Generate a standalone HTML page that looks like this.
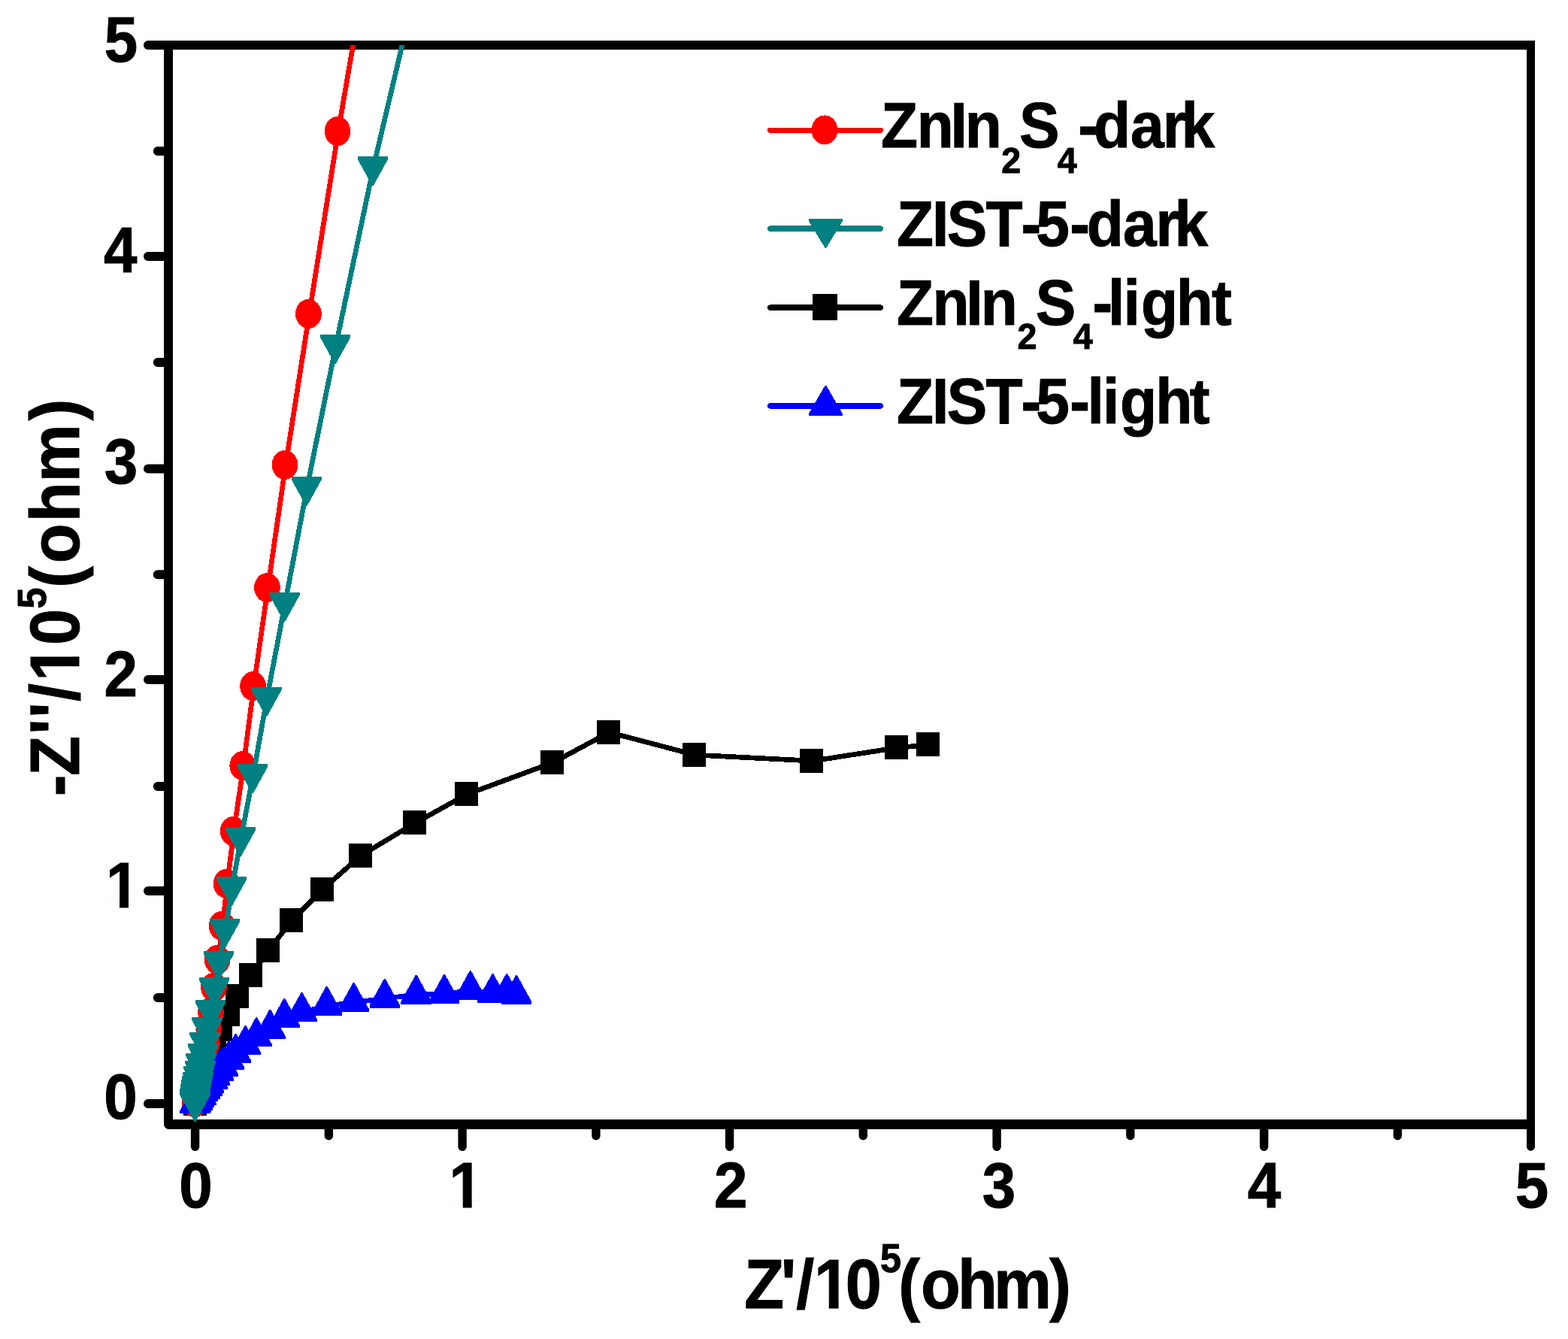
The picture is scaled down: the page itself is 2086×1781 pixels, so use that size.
<!DOCTYPE html>
<html lang="en"><head><meta charset="utf-8"><title>Nyquist plot</title>
<style>html,body{margin:0;padding:0;background:#fff}svg{display:block}text{font-family:"Liberation Sans",sans-serif;font-weight:bold;fill:#000;stroke:#000;stroke-width:1px;stroke-linejoin:miter}</style></head><body>
<svg width="2086" height="1781" viewBox="0 0 2086 1781" role="img" aria-label="Nyquist plot">
<rect x="0" y="0" width="2086" height="1781" fill="#fff"/>
<defs><clipPath id="plotclip"><rect x="224" y="60" width="1812.5" height="1440"/></clipPath></defs>
<g id="frame" fill="#000" shape-rendering="crispEdges">
<rect x="218" y="54" width="1824" height="12"/>
<rect x="218" y="54" width="12" height="1442"/>
<rect x="2031" y="54" width="11" height="1448"/>
<rect x="224" y="1489" width="1818" height="13"/>
</g>
<path d="M218 1489 H231 V1502 H224.5 A6.5 6.5 0 0 1 218 1495.5 Z" fill="#000"/>
<g id="ticks" stroke="#000" stroke-width="12" stroke-linecap="round" fill="none">
<line x1="197" y1="1468.0" x2="224" y2="1468.0"/>
<line x1="197" y1="1185.0" x2="224" y2="1185.0"/>
<line x1="197" y1="904.0" x2="224" y2="904.0"/>
<line x1="197" y1="623.5" x2="224" y2="623.5"/>
<line x1="197" y1="341.0" x2="224" y2="341.0"/>
<line x1="197" y1="60.0" x2="224" y2="60.0"/>
<line x1="209.8" y1="1327.0" x2="224" y2="1327.0"/>
<line x1="209.8" y1="1046.0" x2="224" y2="1046.0"/>
<line x1="209.8" y1="764.2" x2="224" y2="764.2"/>
<line x1="209.8" y1="482.0" x2="224" y2="482.0"/>
<line x1="209.8" y1="201.0" x2="224" y2="201.0"/>
<line x1="259.6" y1="1495" x2="259.6" y2="1525.2" stroke-width="11.4"/>
<line x1="615.1" y1="1495" x2="615.1" y2="1525.2" stroke-width="11.4"/>
<line x1="970.6" y1="1495" x2="970.6" y2="1525.2" stroke-width="11.4"/>
<line x1="1326.1" y1="1495" x2="1326.1" y2="1525.2" stroke-width="11.4"/>
<line x1="1681.6" y1="1495" x2="1681.6" y2="1525.2" stroke-width="11.4"/>
<line x1="2036.5" y1="1495" x2="2036.5" y2="1525.2" stroke-width="11"/>
<line x1="437.4" y1="1495" x2="437.4" y2="1510.8" stroke-width="11.4"/>
<line x1="792.9" y1="1495" x2="792.9" y2="1510.8" stroke-width="11.4"/>
<line x1="1148.3" y1="1495" x2="1148.3" y2="1510.8" stroke-width="11.4"/>
<line x1="1503.8" y1="1495" x2="1503.8" y2="1510.8" stroke-width="11.4"/>
<line x1="1859.3" y1="1495" x2="1859.3" y2="1510.8" stroke-width="11.4"/>
</g>
<g id="ticklabels">
<text transform="scale(0.937,1)"><tspan x="148.1" y="82.0" font-size="85.3">5</tspan></text>
<text transform="scale(0.937,1)"><tspan x="147.2" y="362.0" font-size="85.3">4</tspan></text>
<text transform="scale(0.937,1)"><tspan x="148.1" y="643.0" font-size="85.3">3</tspan></text>
<text transform="scale(0.937,1)"><tspan x="147.8" y="925.8" font-size="85.3">2</tspan></text>
<text transform="scale(0.937,1)"><tspan x="150.4" y="1207.0" font-size="85.3">1</tspan></text>
<text transform="scale(0.937,1)"><tspan x="147.6" y="1488.0" font-size="85.3">0</tspan></text>
<text transform="scale(0.937,1)"><tspan x="254.3" y="1606.0" font-size="85.3">0</tspan></text>
<text transform="scale(0.937,1)"><tspan x="637.8" y="1606.0" font-size="85.3">1</tspan></text>
<text transform="scale(0.937,1)"><tspan x="1013.8" y="1606.0" font-size="85.3">2</tspan></text>
<text transform="scale(0.937,1)"><tspan x="1394.7" y="1606.0" font-size="85.3">3</tspan></text>
<text transform="scale(0.937,1)"><tspan x="1771.4" y="1606.0" font-size="85.3">4</tspan></text>
<text transform="scale(0.937,1)"><tspan x="2151.4" y="1606.0" font-size="85.3">5</tspan></text>
<rect x="144.41" y="1197.19" width="14.62" height="11.31" fill="#fff"/>
<rect x="171.00" y="1197.19" width="13.60" height="11.31" fill="#fff"/>
<rect x="601.11" y="1596.19" width="14.62" height="11.31" fill="#fff"/>
<rect x="627.70" y="1596.19" width="13.60" height="11.31" fill="#fff"/>
</g>
<g id="titles">
<text transform="scale(0.94,1)"><tspan x="1053.5 1105.0 1127.0 1152.2 1196.6" y="1740.3" font-size="92.0">Z'/10</tspan><tspan x="1245.7" y="1691.8" font-size="53.5">5</tspan><tspan x="1271.6 1303.2 1355.4 1406.3 1485.1" y="1740.3" font-size="92.0">(ohm)</tspan></text>
<rect x="1087.00" y="1729.81" width="15.74" height="11.99" fill="#fff"/>
<rect x="1115.60" y="1729.81" width="14.64" height="11.99" fill="#fff"/>
<text transform="translate(105.1,0) rotate(-90) scale(0.94,1)"><tspan x="-1126.8 -1097.6 -1039.2 -1015.7 -992.5 -963.8 -912.7" y="0.0" font-size="92.0">-Z''/10</tspan><tspan x="-861.3" y="-44.5" font-size="53.5">5</tspan><tspan x="-831.7 -797.2 -738.5 -682.1 -595.2" y="0.0" font-size="92.0">(ohm)</tspan></text>
<rect x="94.61" y="886.27" width="11.99" height="15.74" fill="#fff"/>
<rect x="94.61" y="858.76" width="11.99" height="14.64" fill="#fff"/>
</g>
<g id="data" clip-path="url(#plotclip)" shape-rendering="crispEdges">
<g id="s-black" fill="#000000">
<polyline points="1235.0,990.6 1193.0,994.7 1080.9,1012.1 924.6,1004.1 810.5,974.1 735.9,1014.2 621.0,1056.6 552.8,1094.5 480.0,1137.9 429.0,1183.2 388.4,1224.3 357.0,1264.2 334.1,1296.8 316.9,1325.3 304.4,1349.2 294.3,1369.0 286.6,1385.5 280.6,1399.2 276.0,1410.7 272.4,1420.3 269.6,1428.2 267.4,1434.9 265.8,1440.4 264.5,1445.1 263.5,1448.9 262.7,1452.1 262.1,1454.8 261.6,1457.1 261.2,1458.9 261.0,1460.5 260.7,1461.8 260.6,1462.9 260.5,1463.8 260.3,1464.5 260.3,1465.1 260.2,1465.7 260.2,1466.1 260.1,1466.5 260.1,1466.8 260.1,1467.0 260.1,1467.2 260.0,1467.4 260.0,1467.6 260.0,1467.7 260.0,1467.8 260.0,1467.9" fill="none" stroke="#000000" stroke-width="6.7" stroke-linejoin="round" stroke-linecap="round"/>
<rect x="1218.5" y="974.3" width="31.0" height="32.0"/>
<rect x="1176.5" y="978.4" width="31.0" height="32.0"/>
<rect x="1064.4" y="995.8" width="31.0" height="32.0"/>
<rect x="908.1" y="987.8" width="31.0" height="32.0"/>
<rect x="794.0" y="957.8" width="31.0" height="32.0"/>
<rect x="719.4" y="997.9" width="31.0" height="32.0"/>
<rect x="604.5" y="1040.3" width="31.0" height="32.0"/>
<rect x="536.3" y="1078.2" width="31.0" height="32.0"/>
<rect x="463.5" y="1121.6" width="31.0" height="32.0"/>
<rect x="412.5" y="1166.9" width="31.0" height="32.0"/>
<rect x="371.9" y="1208.0" width="31.0" height="32.0"/>
<rect x="340.5" y="1247.9" width="31.0" height="32.0"/>
<rect x="317.6" y="1280.5" width="31.0" height="32.0"/>
<rect x="300.4" y="1309.0" width="31.0" height="32.0"/>
<rect x="287.9" y="1332.9" width="31.0" height="32.0"/>
<rect x="277.8" y="1352.7" width="31.0" height="32.0"/>
<rect x="270.1" y="1369.2" width="31.0" height="32.0"/>
<rect x="264.1" y="1382.9" width="31.0" height="32.0"/>
<rect x="259.5" y="1394.4" width="31.0" height="32.0"/>
<rect x="255.9" y="1404.0" width="31.0" height="32.0"/>
<rect x="253.1" y="1411.9" width="31.0" height="32.0"/>
<rect x="250.9" y="1418.6" width="31.0" height="32.0"/>
<rect x="249.3" y="1424.1" width="31.0" height="32.0"/>
<rect x="248.0" y="1428.8" width="31.0" height="32.0"/>
<rect x="247.0" y="1432.6" width="31.0" height="32.0"/>
<rect x="246.2" y="1435.8" width="31.0" height="32.0"/>
<rect x="245.6" y="1438.5" width="31.0" height="32.0"/>
<rect x="245.1" y="1440.8" width="31.0" height="32.0"/>
<rect x="244.7" y="1442.6" width="31.0" height="32.0"/>
<rect x="244.5" y="1444.2" width="31.0" height="32.0"/>
<rect x="244.2" y="1445.5" width="31.0" height="32.0"/>
<rect x="244.1" y="1446.6" width="31.0" height="32.0"/>
<rect x="244.0" y="1447.5" width="31.0" height="32.0"/>
<rect x="243.8" y="1448.2" width="31.0" height="32.0"/>
<rect x="243.8" y="1448.8" width="31.0" height="32.0"/>
<rect x="243.7" y="1449.4" width="31.0" height="32.0"/>
<rect x="243.7" y="1449.8" width="31.0" height="32.0"/>
<rect x="243.6" y="1450.2" width="31.0" height="32.0"/>
<rect x="243.6" y="1450.5" width="31.0" height="32.0"/>
<rect x="243.6" y="1450.7" width="31.0" height="32.0"/>
<rect x="243.6" y="1450.9" width="31.0" height="32.0"/>
<rect x="243.5" y="1451.1" width="31.0" height="32.0"/>
<rect x="243.5" y="1451.3" width="31.0" height="32.0"/>
<rect x="243.5" y="1451.4" width="31.0" height="32.0"/>
<rect x="243.5" y="1451.5" width="31.0" height="32.0"/>
<rect x="243.5" y="1451.6" width="31.0" height="32.0"/>
</g>
<g id="s-red" fill="#ff0000">
<polyline points="502.2,-130.5 450.0,174.8 411.4,417.7 380.0,618.6 356.4,781.8 337.6,912.9 323.8,1018.7 311.2,1105.8 302.2,1175.6 296.1,1231.6 290.1,1276.6 285.5,1313.5 281.6,1346.3 278.8,1369.4 276.3,1388.0 274.2,1403.1 272.3,1415.4 270.7,1425.2 269.3,1433.2 268.1,1439.7 267.0,1444.9 266.1,1449.2 265.3,1452.6 264.6,1455.4 264.0,1457.6 263.4,1459.4 263.0,1460.9 262.6,1462.1 262.2,1463.0 261.9,1463.8 261.7,1464.4 261.4,1464.9 261.2,1465.4 261.1,1465.7 260.9,1466.0 260.8,1466.2 260.7,1466.4 260.6,1466.5 260.5,1466.6 260.4,1466.7 260.3,1466.8 260.3,1466.8 260.2,1466.9 260.2,1466.9 260.2,1467.0 260.1,1467.0 260.1,1467.0" fill="none" stroke="#ff0000" stroke-width="6.7" stroke-linejoin="round" stroke-linecap="round"/>
<ellipse cx="449.0" cy="174.5" rx="17.4" ry="19.5"/>
<ellipse cx="410.4" cy="417.4" rx="17.4" ry="19.5"/>
<ellipse cx="379.0" cy="618.3" rx="17.4" ry="19.5"/>
<ellipse cx="355.4" cy="781.5" rx="17.4" ry="19.5"/>
<ellipse cx="336.6" cy="912.6" rx="17.4" ry="19.5"/>
<ellipse cx="322.8" cy="1018.4" rx="17.4" ry="19.5"/>
<ellipse cx="310.2" cy="1105.5" rx="17.4" ry="19.5"/>
<ellipse cx="301.2" cy="1175.3" rx="17.4" ry="19.5"/>
<ellipse cx="295.1" cy="1231.3" rx="17.4" ry="19.5"/>
<ellipse cx="289.1" cy="1276.3" rx="17.4" ry="19.5"/>
<ellipse cx="284.5" cy="1313.2" rx="17.4" ry="19.5"/>
<ellipse cx="280.6" cy="1346.0" rx="17.4" ry="19.5"/>
<ellipse cx="277.8" cy="1369.1" rx="17.4" ry="19.5"/>
<ellipse cx="275.3" cy="1387.7" rx="17.4" ry="19.5"/>
<ellipse cx="273.2" cy="1402.8" rx="17.4" ry="19.5"/>
<ellipse cx="271.3" cy="1415.1" rx="17.4" ry="19.5"/>
<ellipse cx="269.7" cy="1424.9" rx="17.4" ry="19.5"/>
<ellipse cx="268.3" cy="1432.9" rx="17.4" ry="19.5"/>
<ellipse cx="267.1" cy="1439.4" rx="17.4" ry="19.5"/>
<ellipse cx="266.0" cy="1444.6" rx="17.4" ry="19.5"/>
<ellipse cx="265.1" cy="1448.9" rx="17.4" ry="19.5"/>
<ellipse cx="264.3" cy="1452.3" rx="17.4" ry="19.5"/>
<ellipse cx="263.6" cy="1455.1" rx="17.4" ry="19.5"/>
<ellipse cx="263.0" cy="1457.3" rx="17.4" ry="19.5"/>
<ellipse cx="262.4" cy="1459.1" rx="17.4" ry="19.5"/>
<ellipse cx="262.0" cy="1460.6" rx="17.4" ry="19.5"/>
<ellipse cx="261.6" cy="1461.8" rx="17.4" ry="19.5"/>
<ellipse cx="261.2" cy="1462.7" rx="17.4" ry="19.5"/>
<ellipse cx="260.9" cy="1463.5" rx="17.4" ry="19.5"/>
<ellipse cx="260.7" cy="1464.1" rx="17.4" ry="19.5"/>
<ellipse cx="260.4" cy="1464.6" rx="17.4" ry="19.5"/>
<ellipse cx="260.2" cy="1465.1" rx="17.4" ry="19.5"/>
<ellipse cx="260.1" cy="1465.4" rx="17.4" ry="19.5"/>
<ellipse cx="259.9" cy="1465.7" rx="17.4" ry="19.5"/>
<ellipse cx="259.8" cy="1465.9" rx="17.4" ry="19.5"/>
<ellipse cx="259.7" cy="1466.1" rx="17.4" ry="19.5"/>
<ellipse cx="259.6" cy="1466.2" rx="17.4" ry="19.5"/>
<ellipse cx="259.5" cy="1466.3" rx="17.4" ry="19.5"/>
<ellipse cx="259.4" cy="1466.4" rx="17.4" ry="19.5"/>
<ellipse cx="259.3" cy="1466.5" rx="17.4" ry="19.5"/>
<ellipse cx="259.3" cy="1466.5" rx="17.4" ry="19.5"/>
<ellipse cx="259.2" cy="1466.6" rx="17.4" ry="19.5"/>
<ellipse cx="259.2" cy="1466.6" rx="17.4" ry="19.5"/>
<ellipse cx="259.2" cy="1466.7" rx="17.4" ry="19.5"/>
<ellipse cx="259.1" cy="1466.7" rx="17.4" ry="19.5"/>
<ellipse cx="259.1" cy="1466.7" rx="17.4" ry="19.5"/>
</g>
<g id="s-blue" fill="#0000ff">
<polyline points="688.0,1323.2 675.2,1321.2 656.5,1321.2 626.8,1317.2 592.1,1322.1 554.7,1322.9 512.8,1328.0 471.6,1333.1 435.7,1338.0 402.5,1346.0 379.3,1354.1 360.3,1368.9 342.2,1379.3 327.5,1390.1 314.6,1401.1 305.6,1410.1 297.4,1418.9 291.4,1425.1 286.4,1431.2 283.4,1436.0 278.4,1441.1 276.4,1444.9 273.3,1449.3 271.1,1452.6 268.2,1457.5 266.0,1460.8 263.4,1464.2 261.8,1466.3 260.5,1468.3" fill="none" stroke="#0000ff" stroke-width="6.7" stroke-linejoin="round" stroke-linecap="round"/>
<polygon points="686.0,1297.3 688.0,1297.3 707.3,1332.3 707.3,1335.8 666.7,1335.8 666.7,1332.3"/>
<polygon points="673.2,1295.3 675.2,1295.3 694.5,1330.3 694.5,1333.8 653.9,1333.8 653.9,1330.3"/>
<polygon points="654.5,1295.3 656.5,1295.3 675.8,1330.3 675.8,1333.8 635.2,1333.8 635.2,1330.3"/>
<polygon points="624.8,1291.3 626.8,1291.3 646.1,1326.3 646.1,1329.8 605.5,1329.8 605.5,1326.3"/>
<polygon points="590.1,1296.2 592.1,1296.2 611.4,1331.2 611.4,1334.7 570.8,1334.7 570.8,1331.2"/>
<polygon points="552.7,1297.0 554.7,1297.0 574.0,1332.0 574.0,1335.5 533.4,1335.5 533.4,1332.0"/>
<polygon points="510.8,1302.1 512.8,1302.1 532.1,1337.1 532.1,1340.6 491.5,1340.6 491.5,1337.1"/>
<polygon points="469.6,1307.2 471.6,1307.2 490.9,1342.2 490.9,1345.7 450.3,1345.7 450.3,1342.2"/>
<polygon points="433.7,1312.1 435.7,1312.1 455.0,1347.1 455.0,1350.6 414.4,1350.6 414.4,1347.1"/>
<polygon points="400.5,1320.1 402.5,1320.1 421.8,1355.1 421.8,1358.6 381.2,1358.6 381.2,1355.1"/>
<polygon points="377.3,1328.2 379.3,1328.2 398.6,1363.2 398.6,1366.7 358.0,1366.7 358.0,1363.2"/>
<polygon points="358.3,1343.0 360.3,1343.0 379.6,1378.0 379.6,1381.5 339.0,1381.5 339.0,1378.0"/>
<polygon points="340.2,1353.4 342.2,1353.4 361.5,1388.4 361.5,1391.9 320.9,1391.9 320.9,1388.4"/>
<polygon points="325.5,1364.2 327.5,1364.2 346.8,1399.2 346.8,1402.7 306.2,1402.7 306.2,1399.2"/>
<polygon points="312.6,1375.2 314.6,1375.2 333.9,1410.2 333.9,1413.7 293.3,1413.7 293.3,1410.2"/>
<polygon points="303.6,1384.2 305.6,1384.2 324.9,1419.2 324.9,1422.7 284.3,1422.7 284.3,1419.2"/>
<polygon points="295.4,1393.0 297.4,1393.0 316.7,1428.0 316.7,1431.5 276.1,1431.5 276.1,1428.0"/>
<polygon points="289.4,1399.2 291.4,1399.2 310.7,1434.2 310.7,1437.7 270.1,1437.7 270.1,1434.2"/>
<polygon points="284.4,1405.3 286.4,1405.3 305.7,1440.3 305.7,1443.8 265.1,1443.8 265.1,1440.3"/>
<polygon points="281.4,1410.1 283.4,1410.1 302.7,1445.1 302.7,1448.6 262.1,1448.6 262.1,1445.1"/>
<polygon points="276.4,1415.2 278.4,1415.2 297.7,1450.2 297.7,1453.7 257.1,1453.7 257.1,1450.2"/>
<polygon points="274.4,1419.0 276.4,1419.0 295.7,1454.0 295.7,1457.5 255.1,1457.5 255.1,1454.0"/>
<polygon points="271.3,1423.4 273.3,1423.4 292.6,1458.4 292.6,1461.9 252.0,1461.9 252.0,1458.4"/>
<polygon points="269.1,1426.7 271.1,1426.7 290.4,1461.7 290.4,1465.2 249.8,1465.2 249.8,1461.7"/>
<polygon points="266.2,1431.6 268.2,1431.6 287.5,1466.6 287.5,1470.1 246.9,1470.1 246.9,1466.6"/>
<polygon points="264.0,1434.9 266.0,1434.9 285.3,1469.9 285.3,1473.4 244.7,1473.4 244.7,1469.9"/>
<polygon points="261.4,1438.3 263.4,1438.3 282.7,1473.3 282.7,1476.8 242.1,1476.8 242.1,1473.3"/>
<polygon points="259.8,1440.4 261.8,1440.4 281.1,1475.4 281.1,1478.9 240.5,1478.9 240.5,1475.4"/>
<polygon points="258.5,1442.4 260.5,1442.4 279.8,1477.4 279.8,1480.9 239.2,1480.9 239.2,1477.4"/>
</g>
<g id="s-teal" fill="#008080">
<polyline points="565.5,-69.0 497.0,221.3 447.1,458.2 408.8,647.2 379.5,801.2 355.4,927.3 337.1,1029.4 321.0,1113.3 309.0,1179.2 300.1,1235.2 292.0,1278.2 286.1,1313.3 281.0,1343.5 276.5,1366.4 273.5,1386.4 271.0,1401.6 268.5,1414.5 267.5,1424.6 265.6,1431.3 264.5,1439.1 263.4,1444.5 262.4,1449.5 261.8,1452.4 261.3,1455.3 261.0,1457.7 260.8,1459.6 260.7,1461.3 260.6,1462.7 260.5,1463.9 260.5,1464.9 260.5,1466.3" fill="none" stroke="#008080" stroke-width="6.7" stroke-linejoin="round" stroke-linecap="round"/>
<polygon points="495.0,246.6 497.0,246.6 516.3,211.6 516.3,208.1 475.7,208.1 475.7,211.6"/>
<polygon points="445.1,483.5 447.1,483.5 466.4,448.5 466.4,445.0 425.8,445.0 425.8,448.5"/>
<polygon points="406.8,672.5 408.8,672.5 428.1,637.5 428.1,634.0 387.5,634.0 387.5,637.5"/>
<polygon points="377.5,826.5 379.5,826.5 398.8,791.5 398.8,788.0 358.2,788.0 358.2,791.5"/>
<polygon points="353.4,952.6 355.4,952.6 374.7,917.6 374.7,914.1 334.1,914.1 334.1,917.6"/>
<polygon points="335.1,1054.7 337.1,1054.7 356.4,1019.7 356.4,1016.2 315.8,1016.2 315.8,1019.7"/>
<polygon points="319.0,1138.6 321.0,1138.6 340.3,1103.6 340.3,1100.1 299.7,1100.1 299.7,1103.6"/>
<polygon points="307.0,1204.5 309.0,1204.5 328.3,1169.5 328.3,1166.0 287.7,1166.0 287.7,1169.5"/>
<polygon points="298.1,1260.5 300.1,1260.5 319.4,1225.5 319.4,1222.0 278.8,1222.0 278.8,1225.5"/>
<polygon points="290.0,1303.5 292.0,1303.5 311.3,1268.5 311.3,1265.0 270.7,1265.0 270.7,1268.5"/>
<polygon points="284.1,1338.6 286.1,1338.6 305.4,1303.6 305.4,1300.1 264.8,1300.1 264.8,1303.6"/>
<polygon points="279.0,1368.8 281.0,1368.8 300.3,1333.8 300.3,1330.3 259.7,1330.3 259.7,1333.8"/>
<polygon points="274.5,1391.7 276.5,1391.7 295.8,1356.7 295.8,1353.2 255.2,1353.2 255.2,1356.7"/>
<polygon points="271.5,1411.7 273.5,1411.7 292.8,1376.7 292.8,1373.2 252.2,1373.2 252.2,1376.7"/>
<polygon points="269.0,1426.9 271.0,1426.9 290.3,1391.9 290.3,1388.4 249.7,1388.4 249.7,1391.9"/>
<polygon points="266.5,1439.8 268.5,1439.8 287.8,1404.8 287.8,1401.3 247.2,1401.3 247.2,1404.8"/>
<polygon points="265.5,1449.9 267.5,1449.9 286.8,1414.9 286.8,1411.4 246.2,1411.4 246.2,1414.9"/>
<polygon points="263.6,1456.6 265.6,1456.6 284.9,1421.6 284.9,1418.1 244.3,1418.1 244.3,1421.6"/>
<polygon points="262.5,1464.4 264.5,1464.4 283.8,1429.4 283.8,1425.9 243.2,1425.9 243.2,1429.4"/>
<polygon points="261.4,1469.8 263.4,1469.8 282.7,1434.8 282.7,1431.3 242.1,1431.3 242.1,1434.8"/>
<polygon points="260.4,1474.8 262.4,1474.8 281.7,1439.8 281.7,1436.3 241.1,1436.3 241.1,1439.8"/>
<polygon points="259.8,1477.7 261.8,1477.7 281.1,1442.7 281.1,1439.2 240.5,1439.2 240.5,1442.7"/>
<polygon points="259.3,1480.6 261.3,1480.6 280.6,1445.6 280.6,1442.1 240.0,1442.1 240.0,1445.6"/>
<polygon points="259.0,1483.0 261.0,1483.0 280.3,1448.0 280.3,1444.5 239.7,1444.5 239.7,1448.0"/>
<polygon points="258.8,1484.9 260.8,1484.9 280.1,1449.9 280.1,1446.4 239.5,1446.4 239.5,1449.9"/>
<polygon points="258.7,1486.6 260.7,1486.6 280.0,1451.6 280.0,1448.1 239.4,1448.1 239.4,1451.6"/>
<polygon points="258.6,1488.0 260.6,1488.0 279.9,1453.0 279.9,1449.5 239.3,1449.5 239.3,1453.0"/>
<polygon points="258.5,1489.2 260.5,1489.2 279.8,1454.2 279.8,1450.7 239.2,1450.7 239.2,1454.2"/>
<polygon points="258.5,1490.2 260.5,1490.2 279.8,1455.2 279.8,1451.7 239.2,1451.7 239.2,1455.2"/>
<polygon points="258.5,1491.6 260.5,1491.6 279.8,1456.6 279.8,1453.1 239.2,1453.1 239.2,1456.6"/>
</g>
</g>
<g id="legend">
<g shape-rendering="crispEdges">
<g fill="#ff0000"><line x1="1024.8" y1="173.3" x2="1171.3" y2="173.3" stroke="#ff0000" stroke-width="7.5" stroke-linecap="round"/><ellipse cx="1097.0" cy="172.9" rx="17.4" ry="19.5"/></g>
<g fill="#008080"><line x1="1024.8" y1="304.2" x2="1171.3" y2="304.2" stroke="#008080" stroke-width="7.5" stroke-linecap="round"/><polygon points="1097.4,329.6 1099.4,329.6 1120.5,294.6 1120.5,291.1 1076.3,291.1 1076.3,294.6"/></g>
<g fill="#000000"><line x1="1024.8" y1="409.1" x2="1171.3" y2="409.1" stroke="#000000" stroke-width="7.5" stroke-linecap="round"/><rect x="1080.7" y="391.3" width="33.2" height="34.2"/></g>
<g fill="#0000ff"><line x1="1024.8" y1="539.8" x2="1171.3" y2="539.8" stroke="#0000ff" stroke-width="7.5" stroke-linecap="round"/><polygon points="1097.4,513.1 1099.4,513.1 1120.5,549.6 1120.5,553.1 1076.3,553.1 1076.3,549.6"/></g>
</g>
<text transform="scale(0.95,1)"><tspan x="1233.6 1283.9 1331.1 1351.3" y="196.5" font-size="84.5">ZnIn</tspan><tspan x="1402.5" y="229.8" font-size="49.0">2</tspan><tspan x="1427.4" y="196.5" font-size="84.5">S</tspan><tspan x="1480.9" y="229.8" font-size="49.0">4</tspan><tspan x="1509.7 1531.5 1583.2 1628.2 1654.1" y="196.5" font-size="84.5">-dark</tspan></text>
<text transform="scale(0.95,1)"><tspan x="1255.7 1305.4 1326.1 1380.4 1430.1 1450.9 1498.2 1521.8 1572.7 1618.5 1644.7" y="327.2" font-size="84.5">ZIST-5-dark</tspan></text>
<text transform="scale(0.95,1)"><tspan x="1255.7 1305.8 1353.0 1373.4" y="431.9" font-size="84.5">ZnIn</tspan><tspan x="1424.8" y="464.3" font-size="49.0">2</tspan><tspan x="1450.3" y="431.9" font-size="84.5">S</tspan><tspan x="1502.9" y="464.3" font-size="49.0">4</tspan><tspan x="1529.9 1551.7 1573.2 1597.8 1647.0 1696.9" y="431.9" font-size="84.5">-light</tspan></text>
<text transform="scale(0.95,1)"><tspan x="1255.7 1305.4 1326.1 1380.4 1430.1 1450.9 1498.2 1522.6 1544.3 1568.5 1618.2 1666.1" y="562.8" font-size="84.5">ZIST-5-light</tspan></text>
</g>
</svg></body></html>
